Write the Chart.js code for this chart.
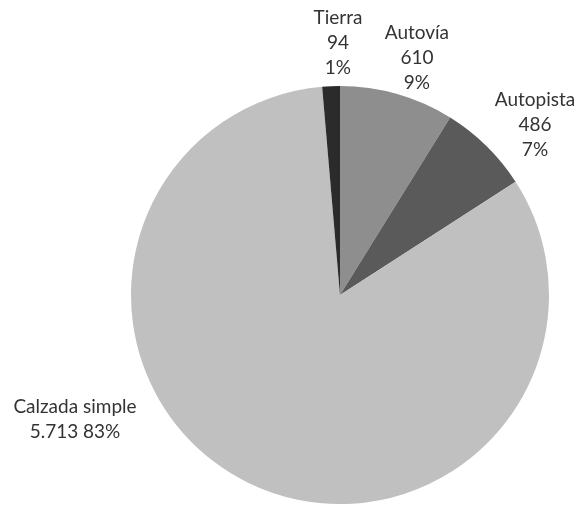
<!DOCTYPE html>
<html>
<head>
<meta charset="utf-8">
<script src="https://cdn.jsdelivr.net/npm/chart.js@4.4.1/dist/chart.umd.min.js"></script>
<style>
  html, body { margin: 0; padding: 0; background: #ffffff; }
  #wrap { width: 582px; height: 506px; position: relative; }
</style>
</head>
<body>
<div id="wrap"><canvas id="c" width="582" height="506"></canvas></div>
<script>
const categories = ['Autovía', 'Autopista', 'Calzada simple', 'Tierra'];
const values = [610, 486, 5713, 94];
const sliceColors = ['#8e8e8e', '#5a5a5a', '#c0c0c0', '#2b2b2b'];

function fmtNum(v) {
  return String(v).replace(/\B(?=(\d{3})+(?!\d))/g, '.');
}

// label placement relative to pie centre, in units of the outer radius
const labelPlace = [
  { fx: 0.368, fy: -1.134, lines: 3 },
  { fx: 0.933, fy: -0.813, lines: 3 },
  { fx: -1.268, fy: 0.593, lines: 2 },
  { fx: -0.010, fy: -1.206, lines: 3 }
];

const labelPlugin = {
  id: 'pieLabels',
  afterDatasetsDraw(chart) {
    const ctx = chart.ctx;
    const meta = chart.getDatasetMeta(0);
    const data = chart.data.datasets[0].data;
    const total = data.reduce((a, b) => a + b, 0);
    ctx.save();
    ctx.font = '19px Lato, "Liberation Sans", sans-serif';
    ctx.fillStyle = '#333333';
    ctx.textAlign = 'center';
    ctx.textBaseline = 'middle';
    const lh = 25;
    meta.data.forEach((arc, i) => {
      const R = arc.outerRadius;
      const cx = arc.x + labelPlace[i].fx * R;
      const cy = arc.y + labelPlace[i].fy * R;
      const pct = Math.round(data[i] / total * 100) + '%';
      let lines;
      if (labelPlace[i].lines === 2) {
        lines = [chart.data.labels[i], fmtNum(data[i]) + ' ' + pct];
      } else {
        lines = [chart.data.labels[i], fmtNum(data[i]), pct];
      }
      const start = cy - (lines.length - 1) * lh / 2;
      lines.forEach((t, k) => ctx.fillText(t, cx, start + k * lh));
    });
    ctx.restore();
  }
};

new Chart(document.getElementById('c'), {
  type: 'pie',
  data: {
    labels: categories,
    datasets: [{
      data: values,
      backgroundColor: sliceColors,
      borderWidth: 0
    }]
  },
  options: {
    responsive: false,
    animation: false,
    layout: { padding: { top: 86, bottom: 2, left: 131, right: 33 } },
    plugins: {
      legend: { display: false },
      tooltip: { enabled: false }
    }
  },
  plugins: [labelPlugin]
});
</script>
</body>
</html>
